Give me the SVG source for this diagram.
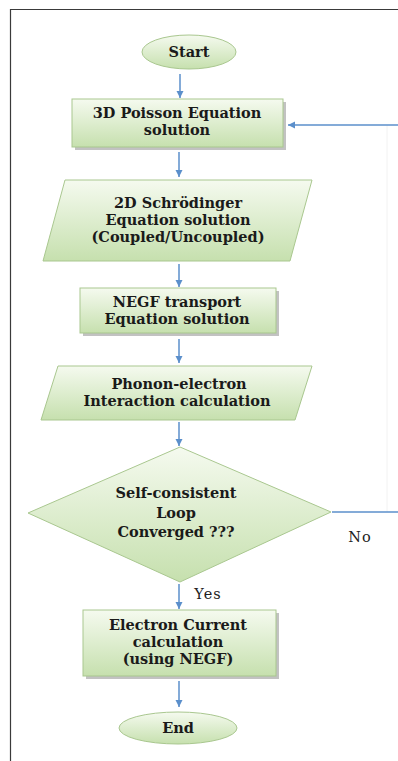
<svg xmlns="http://www.w3.org/2000/svg" width="398" height="761" viewBox="0 0 398 761">
<defs>
<linearGradient id="g" x1="0" y1="0" x2="0" y2="1">
<stop offset="0" stop-color="#f5faef"/>
<stop offset="1" stop-color="#c6e0ae"/>
</linearGradient>
<marker id="ah" markerUnits="userSpaceOnUse" markerWidth="8" markerHeight="8" refX="7" refY="4" orient="auto">
<path d="M0,0.5 L7,4 L0,7.5 Z" fill="#5b8fcb"/>
</marker>
<style>
.n{fill:url(#g);stroke:#a9c78f;stroke-width:1}
.sh{fill:#9a9a9a;opacity:0.6}
.t{font-family:"DejaVu Serif","Liberation Serif",serif;font-weight:bold;font-size:14.5px;fill:#1a1a1a;text-anchor:middle}
.l{font-family:"DejaVu Serif","Liberation Serif",serif;font-size:14.5px;fill:#222;text-anchor:middle;letter-spacing:1px}
.c{stroke:#5b8fcb;stroke-width:1.5;fill:none}
</style>
</defs>
<rect width="398" height="761" fill="#ffffff"/>
<g id="frame">
<path d="M10.5,761 V9.5 H398" fill="none" stroke="#3a3a3a" stroke-width="1.2"/>
<line x1="387" y1="125" x2="387" y2="512" stroke="#f2f2f2" stroke-width="1"/>
</g>
<g id="connectors">
<line class="c" x1="180" y1="74" x2="180" y2="98" marker-end="url(#ah)"/>
<line class="c" x1="179" y1="152" x2="179" y2="177" marker-end="url(#ah)"/>
<line class="c" x1="179" y1="264" x2="179" y2="287" marker-end="url(#ah)"/>
<line class="c" x1="179" y1="339" x2="179" y2="363" marker-end="url(#ah)"/>
<line class="c" x1="179" y1="422" x2="179" y2="446" marker-end="url(#ah)"/>
<line class="c" x1="179" y1="584" x2="179" y2="609" marker-end="url(#ah)"/>
<line class="c" x1="179" y1="681" x2="179" y2="707" marker-end="url(#ah)"/>
<line class="c" x1="332" y1="512" x2="398" y2="512"/>
<line class="c" x1="398" y1="125" x2="288" y2="125" marker-end="url(#ah)"/>
<text class="l" x="360" y="542">No</text>
<text class="l" x="208" y="599">Yes</text>
</g>
<g id="start">
<ellipse cx="189" cy="52" rx="47" ry="17" class="n"/>
<text class="t" x="189" y="57">Start</text>
</g>
<g id="poisson">
<rect class="sh" x="75" y="102" width="211" height="48"/>
<rect class="n" x="72" y="99" width="211" height="48"/>
<text class="t" x="177" y="118">3D Poisson Equation</text>
<text class="t" x="177" y="135">solution</text>
</g>
<g id="schrodinger">
<polygon class="n" points="65,180 312,180 290,261 43,261"/>
<text class="t" x="178" y="208">2D Schrödinger</text>
<text class="t" x="178" y="225">Equation solution</text>
<text class="t" x="178" y="242">(Coupled/Uncoupled)</text>
</g>
<g id="negf">
<rect class="sh" x="83" y="291" width="196" height="45"/>
<rect class="n" x="80" y="288" width="196" height="45"/>
<text class="t" x="177" y="307">NEGF transport</text>
<text class="t" x="177" y="324">Equation solution</text>
</g>
<g id="phonon">
<polygon class="n" points="58,366 312,366 295,420 41,420"/>
<text class="t" x="179" y="389">Phonon-electron</text>
<text class="t" x="177" y="406">Interaction calculation</text>
</g>
<g id="decision">
<polygon class="n" points="180,447 331,512 180,582 28,513"/>
<text class="t" x="176" y="498">Self-consistent</text>
<text class="t" x="176" y="518">Loop</text>
<text class="t" x="176" y="537">Converged ???</text>
</g>
<g id="current">
<rect class="sh" x="86" y="613" width="193" height="66"/>
<rect class="n" x="83" y="610" width="193" height="66"/>
<text class="t" x="178" y="630">Electron Current</text>
<text class="t" x="178" y="647">calculation</text>
<text class="t" x="178" y="664">(using NEGF)</text>
</g>
<g id="end">
<ellipse cx="178" cy="728" rx="59" ry="16" class="n"/>
<text class="t" x="178" y="733">End</text>
</g>
</svg>
